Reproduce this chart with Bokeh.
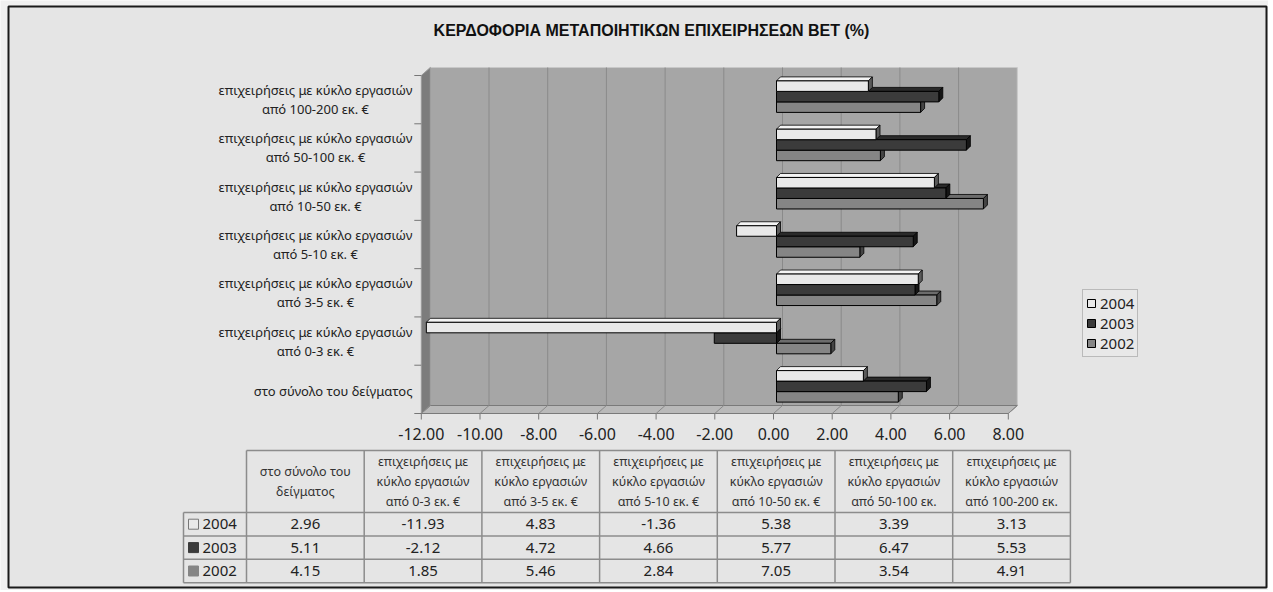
from bokeh.plotting import figure
from bokeh.models import Range1d, Legend, LegendItem
from bokeh.embed import file_html
from bokeh.resources import INLINE
from bokeh.core.properties import value

# ---------------- data ----------------
title = "ΚΕΡΔΟΦΟΡΙΑ ΜΕΤΑΠΟΙΗΤΙΚΩΝ ΕΠΙΧΕΙΡΗΣΕΩΝ ΒΕΤ (%)"
chart_labels = [
    "στο σύνολο του δείγματος",
    "επιχειρήσεις με κύκλο εργασιών\nαπό 0-3 εκ. €",
    "επιχειρήσεις με κύκλο εργασιών\nαπό 3-5 εκ. €",
    "επιχειρήσεις με κύκλο εργασιών\nαπό 5-10 εκ. €",
    "επιχειρήσεις με κύκλο εργασιών\nαπό 10-50 εκ. €",
    "επιχειρήσεις με κύκλο εργασιών\nαπό 50-100 εκ. €",
    "επιχειρήσεις με κύκλο εργασιών\nαπό 100-200 εκ. €",
]
table_headers = [
    "στο σύνολο του\nδείγματος",
    "επιχειρήσεις με\nκύκλο εργασιών\nαπό 0-3 εκ. €",
    "επιχειρήσεις με\nκύκλο εργασιών\nαπό 3-5 εκ. €",
    "επιχειρήσεις με\nκύκλο εργασιών\nαπό 5-10 εκ. €",
    "επιχειρήσεις με\nκύκλο εργασιών\nαπό 10-50 εκ. €",
    "επιχειρήσεις με\nκύκλο εργασιών\nαπό 50-100 εκ.",
    "επιχειρήσεις με\nκύκλο εργασιών\nαπό 100-200 εκ.",
]
years = ["2004", "2003", "2002"]
v2004 = [2.96, -11.93, 4.83, -1.36, 5.38, 3.39, 3.13]
v2003 = [5.11, -2.12, 4.72, 4.66, 5.77, 6.47, 5.53]
v2002 = [4.15, 1.85, 5.46, 2.84, 7.05, 3.54, 4.91]
x_ticks = [-12, -10, -8, -6, -4, -2, 0, 2, 4, 6, 8]

# ---------------- styles / layout ----------------
FONT_NAME = "Noto Sans"
FONT = value(FONT_NAME)
W, H = 1268, 590
K = 29.35          # px per value unit
ZX = 776           # px position of value 0 (bar plane)
BG = "#e5e5e5"
OUT_BG = "#f0f0f0"
front_col = {"2004": "#e9e9e9", "2003": "#3b3b3b", "2002": "#858585"}
top_col = {"2004": "#f4f4f4", "2003": "#2a2a2a", "2002": "#6c6c6c"}
side_col = {"2004": "#5a5a5a", "2003": "#161616", "2002": "#444444"}

p = figure(width=W, height=H, x_range=Range1d(-ZX / K, (W - ZX) / K),
           y_range=Range1d(H, 0), output_backend="svg", toolbar_location=None,
           min_border=0, x_axis_location=None, y_axis_location=None)
p.extra_x_ranges = {"px": Range1d(0, W)}
p.grid.visible = False
p.background_fill_color = OUT_BG
p.border_fill_color = OUT_BG
p.outline_line_color = None

# outer panel with border
p.quad(left=[8], right=[1266], top=[6], bottom=[587], x_range_name="px",
       fill_color=BG, line_color="#1a1a1a", line_width=2)

vmin, vmax = x_ticks[0], x_ticks[-1]
FO, BO = -3 / K, 6 / K          # front / back plane offsets (value units)
Y_BAR0, Y_FRONT0, Y_BACK0 = 72, 75, 67
BAND = 338 / 7
Y_FRONT1, Y_BACK1 = Y_FRONT0 + 7 * BAND, Y_BACK0 + 7 * BAND

# back wall
p.quad(left=vmin + BO, right=vmax + BO, top=Y_BACK0, bottom=Y_BACK1,
       fill_color="#a6a6a6", line_color="#c8c8c8", line_width=1)
inner = [t + BO for t in x_ticks[1:-1]]
p.segment(x0=inner, y0=[Y_BACK0] * len(inner), x1=inner, y1=[Y_BACK1] * len(inner),
          line_color="#8a8a8a", line_width=1)
# left wall
p.patch(x=[vmin + FO, vmin + BO, vmin + BO, vmin + FO],
        y=[Y_FRONT0, Y_BACK0, Y_BACK1, Y_FRONT1],
        fill_color="#7c7c7c", line_color="#9a9a9a", line_width=1)
# floor
p.patch(x=[vmin + FO, vmax + FO, vmax + BO, vmin + BO],
        y=[Y_FRONT1, Y_FRONT1, Y_BACK1, Y_BACK1],
        fill_color="#b9b9b9", line_color="#7a7a7a", line_width=1)
p.segment(x0=[t + BO for t in x_ticks], y0=[Y_BACK1] * len(x_ticks),
          x1=[t + FO for t in x_ticks], y1=[Y_FRONT1] * len(x_ticks),
          line_color="#8a8a8a", line_width=1)
# x ticks + labels
p.segment(x0=[t + FO for t in x_ticks], y0=[Y_FRONT1] * len(x_ticks),
          x1=[t + FO for t in x_ticks], y1=[Y_FRONT1 + 6] * len(x_ticks),
          line_color="#777777", line_width=1)
p.text(x=x_ticks, y=[433] * len(x_ticks), text=[f"{t:.2f}" for t in x_ticks],
       x_offset=-3, text_align="center", text_baseline="middle",
       text_font=FONT, text_font_size="16px", text_color="#222222")
# y ticks on left wall
ybd = [Y_FRONT0 + i * BAND for i in range(8)]
p.segment(x0=[vmin + FO - 7 / K] * 8, y0=ybd, x1=[vmin + FO] * 8, y1=ybd,
          line_color="#777777", line_width=1)

# category labels
n = len(chart_labels)
for j, lab in enumerate(chart_labels):
    b = n - 1 - j
    yc = Y_FRONT0 + (b + 0.5) * BAND
    if "\n" in lab:
        p.text(x=[315], y=[yc], text=[lab], x_range_name="px", text_align="center",
               text_baseline="middle", text_font=FONT, text_font_size="13px",
               text_color="#222222", text_line_height=1.05)
    else:
        p.text(x=[412], y=[yc + 2], text=[lab], x_range_name="px", text_align="right",
               text_baseline="middle", text_font=FONT, text_font_size="13px",
               text_color="#222222")

# bars (3D)
BT = 10.5
DB = 4
series = {"2004": (v2004, -BT), "2003": (v2003, 0.0), "2002": (v2002, BT)}
renderers = {}
for yr in ["2002", "2003", "2004"]:
    vals, off = series[yr]
    ycs = [Y_BAR0 + (n - 1 - j + 0.5) * BAND + off for j in range(n)]
    tops_x, tops_y, sides_x, sides_y = [], [], [], []
    for v, yc in zip(vals, ycs):
        L, R = min(0, v), max(0, v)
        t, bt = yc - BT / 2, yc + BT / 2
        tops_x.append([L, R, R + DB / K, L + DB / K])
        tops_y.append([t, t, t - DB, t - DB])
        sides_x.append([R, R + DB / K, R + DB / K, R])
        sides_y.append([t, t - DB, bt - DB, bt])
    p.patches(xs=tops_x, ys=tops_y, fill_color=top_col[yr], line_color="black", line_width=0.8)
    p.patches(xs=sides_x, ys=sides_y, fill_color=side_col[yr], line_color="black", line_width=0.8)
    renderers[yr] = p.hbar(y=ycs, left=0, right=vals, height=BT, fill_color=front_col[yr],
                           line_color="black", line_width=1)

legend = Legend(items=[LegendItem(label=yr, renderers=[renderers[yr]]) for yr in years],
                location=(1082, H - 357), orientation="vertical",
                glyph_width=10, glyph_height=10, label_standoff=4,
                label_text_font=FONT_NAME, label_text_font_size="15px",
                label_text_color="#222222",
                label_height=14, spacing=0, padding=3, margin=0,
                background_fill_color="#e8e8e8", border_line_color="#8c8c8c",
                border_line_width=1)
p.add_layout(legend)

# ---------------- data table ----------------
TX0, CW = 246, 117.7
TL = 183
TY0, TY1, RH = 450, 512, 23.4
ncol = len(table_headers)
TX1 = TX0 + ncol * CW
row_lines = [TY1 + i * RH for i in range(4)]
line_c = "#8c8c8c"
p.segment(x0=[TX0] + [TL] * 4, y0=[TY0] + row_lines, x1=[TX1] * 5, y1=[TY0] + row_lines,
          x_range_name="px", line_color=line_c, line_width=1.5)
vx = [TX0 + i * CW for i in range(ncol + 1)]
p.segment(x0=vx, y0=[TY0] * len(vx), x1=vx, y1=[row_lines[-1]] * len(vx),
          x_range_name="px", line_color=line_c, line_width=1.5)
p.segment(x0=[TL], y0=[TY1], x1=[TL], y1=[row_lines[-1]],
          x_range_name="px", line_color=line_c, line_width=1.5)
cx = [TX0 + (i + 0.5) * CW for i in range(ncol)]
p.text(x=cx, y=[(TY0 + TY1) / 2] * ncol, text=table_headers, x_range_name="px",
       text_align="center", text_baseline="middle", text_font=FONT,
       text_font_size="12.5px", text_color="#333333", text_line_height=1.2)
for r, yr in enumerate(years):
    vals = series[yr][0]
    yc = TY1 + (r + 0.5) * RH
    p.text(x=cx, y=[yc] * ncol, text=[f"{v:.2f}" for v in vals], x_range_name="px",
           text_align="center", text_baseline="middle", text_font=FONT,
           text_font_size="15px", text_color="#222222")
    p.quad(left=[188], right=[198], top=[yc - 5], bottom=[yc + 5], x_range_name="px",
           fill_color=front_col[yr], line_color="#777777" if yr == "2004" else front_col[yr])
    p.text(x=[202], y=[yc], text=[yr], x_range_name="px", text_align="left",
           text_baseline="middle", text_font=FONT, text_font_size="15px",
           text_color="#222222")

# title
p.text(x=[651], y=[30], text=[title], x_range_name="px", text_align="center",
       text_baseline="middle", text_font=value("Liberation Sans"), text_font_style="bold",
       text_font_size="16px", text_color="#111111")

open("out.html", "w").write(file_html(p, INLINE))
